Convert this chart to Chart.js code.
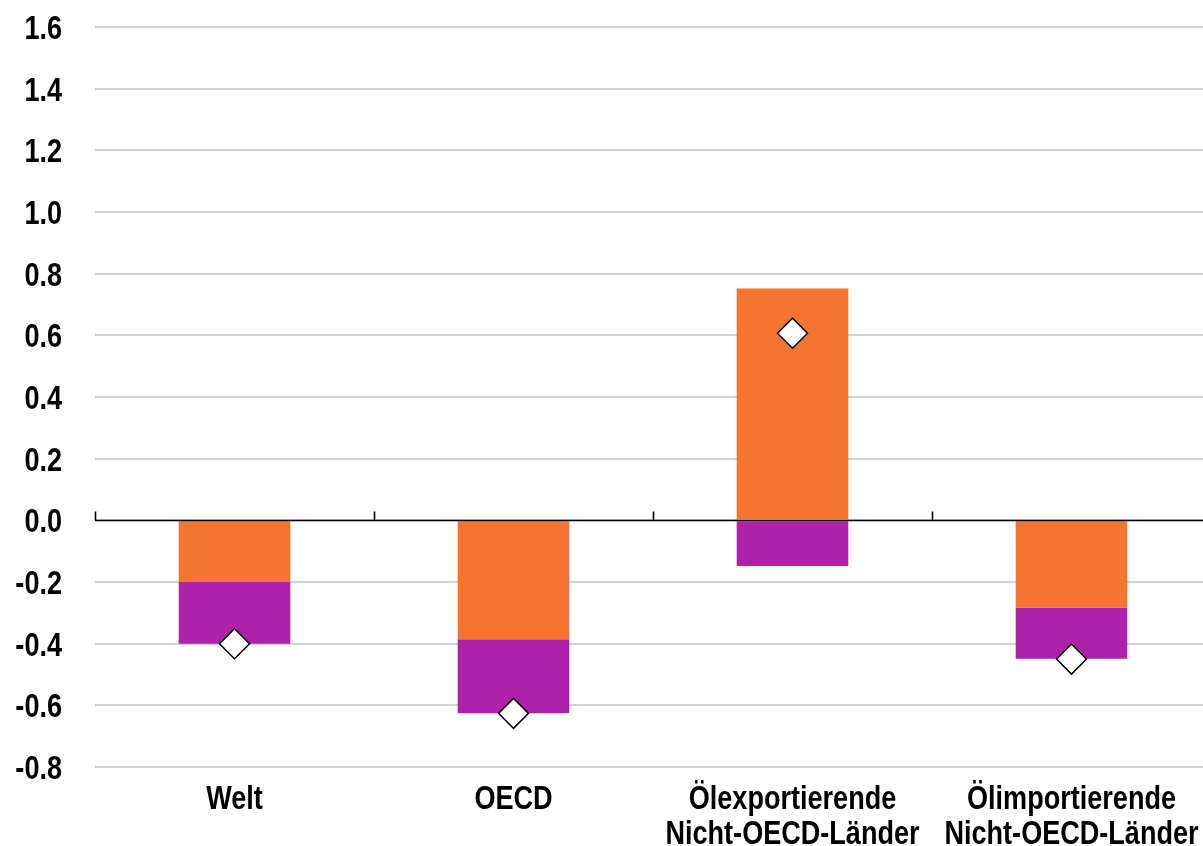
<!DOCTYPE html>
<html><head><meta charset="utf-8">
<script src="https://cdn.jsdelivr.net/npm/chart.js@4/dist/chart.umd.min.js"></script>
<style>html,body{margin:0;padding:0;overflow:hidden;background:#fff}</style>
</head><body>
<canvas id="c" width="1211" height="846" style="display:block"></canvas>
<script>
const categories = [["Welt"], ["OECD"], ["Ölexportierende", "Nicht-OECD-Länder"], ["Ölimportierende", "Nicht-OECD-Länder"]];
const orangeValues = [-0.20, -0.386, 0.752, -0.283];
const purpleValues = [-0.20, -0.240, -0.148, -0.166];
const totalValues = [-0.40, -0.626, 0.607, -0.450];
const yTicks = [-0.8, -0.6, -0.4, -0.2, 0.0, 0.2, 0.4, 0.6, 0.8, 1.0, 1.2, 1.4, 1.6];

const FONT = 'bold 33px "Liberation Sans", Arial, sans-serif';
const NARROW = 0.82;

function narrowText(ctx, text, x, y, align) {
  ctx.save();
  ctx.translate(x, y);
  ctx.scale(NARROW, 1);
  ctx.textAlign = align;
  ctx.textBaseline = 'alphabetic';
  ctx.fillText(text, 0, 0);
  ctx.restore();
}

const zeroLine = {
  id: 'zeroLine',
  afterDatasetsDraw(chart) {
    const {ctx, chartArea, scales} = chart;
    const y0 = Math.round(scales.y.getPixelForValue(0)) + 0.5;
    ctx.save();
    ctx.strokeStyle = '#000';
    ctx.lineWidth = 1.6;
    ctx.beginPath();
    ctx.moveTo(chartArea.left, y0);
    ctx.lineTo(chartArea.right, y0);
    const n = categories.length;
    for (let i = 0; i < n; i++) {
      let bx = i === 0 ? chartArea.left : (scales.x.getPixelForValue(i - 1) + scales.x.getPixelForValue(i)) / 2;
      bx = Math.round(bx) + 0.5;
      ctx.moveTo(bx, y0);
      ctx.lineTo(bx, y0 - 9);
    }
    ctx.stroke();
    ctx.restore();
  }
};

const axisLabels = {
  id: 'axisLabels',
  afterDraw(chart) {
    const {ctx, chartArea, scales} = chart;
    ctx.save();
    ctx.font = FONT;
    ctx.fillStyle = '#000';
    yTicks.forEach(v => {
      const py = scales.y.getPixelForValue(v);
      narrowText(ctx, v.toFixed(1), chartArea.left - 33, py + 12, 'right');
    });
    categories.forEach((lines, i) => {
      const px = scales.x.getPixelForValue(i);
      lines.forEach((t, j) => {
        narrowText(ctx, t, px, chartArea.bottom + 42 + j * 35, 'center');
      });
    });
    ctx.restore();
  }
};

new Chart(document.getElementById('c'), {
  type: 'bar',
  data: {
    labels: categories,
    datasets: [
      {
        type: 'line',
        label: 'Gesamt',
        data: totalValues,
        showLine: false,
        pointStyle: 'rectRot',
        pointRadius: 15,
        pointBackgroundColor: '#ffffff',
        pointBorderColor: '#000000',
        pointBorderWidth: 1.5,
        order: 0,
        stack: 'pts'
      },
      {
        label: 'A',
        data: orangeValues,
        backgroundColor: '#F47430',
        stack: 's',
        order: 2,
        barPercentage: 1,
        categoryPercentage: 0.4
      },
      {
        label: 'B',
        data: purpleValues,
        backgroundColor: '#AE21AA',
        stack: 's',
        order: 2,
        barPercentage: 1,
        categoryPercentage: 0.4
      }
    ]
  },
  options: {
    responsive: false,
    animation: false,
    layout: { autoPadding: false, padding: { top: 27, left: 0, right: 0, bottom: 0 } },
    plugins: { legend: { display: false }, tooltip: { enabled: false } },
    scales: {
      x: {
        stacked: true,
        grid: { display: false, drawTicks: false },
        border: { display: false },
        ticks: { display: false },
        afterFit(axis) { axis.height = 79; }
      },
      y: {
        stacked: true,
        min: -0.8,
        max: 1.6,
        afterBuildTicks(axis) { axis.ticks = yTicks.map(v => ({ value: v })); },
        grid: { color: '#d3d3d3', lineWidth: 2, drawTicks: false },
        border: { display: false },
        ticks: { display: false },
        afterFit(axis) { axis.width = 95; }
      }
    }
  },
  plugins: [zeroLine, axisLabels]
});
</script>
</body></html>
